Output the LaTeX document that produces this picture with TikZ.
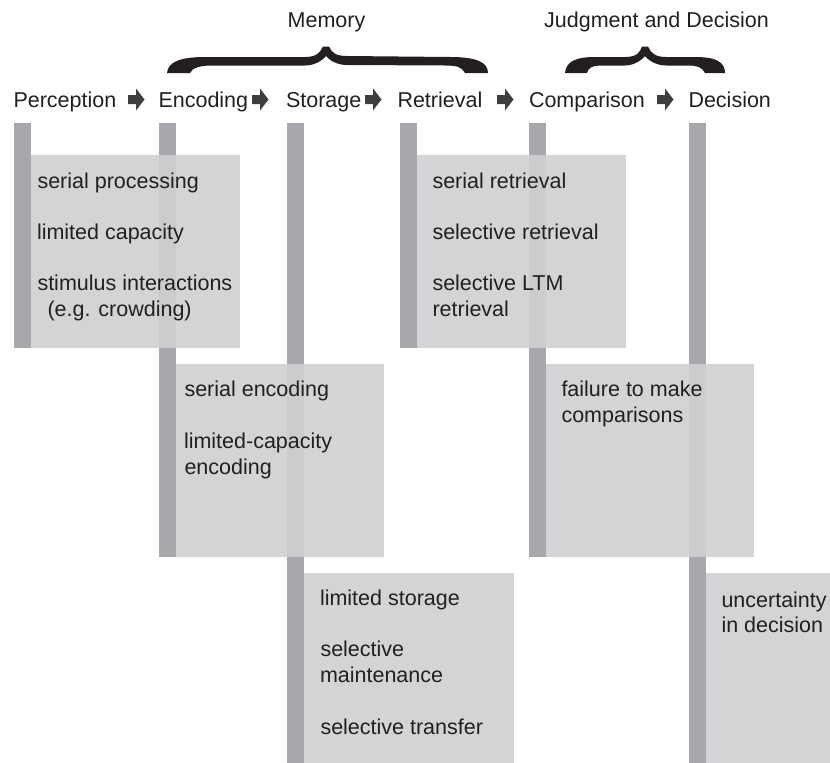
\documentclass[tikz,border=0pt]{standalone}
\usepackage{fontspec}
\setmainfont{Liberation Sans}
\definecolor{barc}{RGB}{167,168,171}
\definecolor{boxc}{RGB}{207,208,210}
\definecolor{txtc}{RGB}{35,31,32}
\definecolor{arrc}{RGB}{62,62,64}
\begin{document}
\begin{tikzpicture}[x=1pt,y=-1pt,
  bar/.style={fill=barc, draw=none},
  box/.style={fill=boxc, fill opacity=0.92, draw=none},
  txt/.style={anchor=base west, inner sep=0pt, outer sep=0pt, text=txtc, font=\fontsize{21.5}{25}\selectfont},
  ttl/.style={anchor=base, inner sep=0pt, outer sep=0pt, text=txtc, font=\fontsize{21.5}{25}\selectfont},
  arr/.style={fill=arrc, draw=none},
  brc/.style={fill=txtc, draw=none}]
\useasboundingbox (0,0) rectangle (830,763);

% vertical bars
\fill[bar] (14,123) rectangle (31,348);
\fill[bar] (159,123) rectangle (176,557);
\fill[bar] (287,123) rectangle (304,763);
\fill[bar] (400,123) rectangle (417,348);
\fill[bar] (529,123) rectangle (546,557);
\fill[bar] (689,123) rectangle (706,763);

% boxes
\fill[box] (31,155) rectangle (240,348);
\fill[box] (417,155) rectangle (626,348);
\fill[box] (176,364) rectangle (384,557);
\fill[box] (546,364) rectangle (754,557);
\fill[box] (304,573) rectangle (514,763);
\fill[box] (706,573) rectangle (830,763);

% header words
\node[txt] (perc) at (13.5,107.5) {Perception};
\node[txt] (enc)  at (158.5,107.5) {Encoding};
\node[txt] (sto)  at (286,107.5) {Storage};
\node[txt] (ret)  at (397.5,107.5) {Retrieval};
\node[txt] (comp) at (529,107.5) {Comparison};
\node[txt] (dec)  at (688.5,107.5) {Decision};

% block arrows
\foreach \x in {128,252,365,497,657}{
  \fill[arr] (\x,95) -- (\x+8,95) -- (\x+8,88.5) -- (\x+16.5,99.5) -- (\x+8,110.5) -- (\x+8,104) -- (\x,104) -- cycle;
}

% group titles
\node[ttl] (mem) at (326.5,27) {Memory};
\node[ttl] (jd)  at (656.5,27) {Judgment and Decision};

% braces
\fill[brc] (167,73) .. controls (168,62) and (180,57) .. (205,57) -- (305,57)
  .. controls (316,57) and (320,53) .. (323,46.5) -- (329,46.5)
  .. controls (332,53) and (336,56) .. (347,56) -- (450,57)
  .. controls (476,57) and (488,62) .. (488,73) -- (465,73)
  .. controls (462,67) and (457,65.5) .. (445,65.5) -- (347,65)
  .. controls (338,65) and (330,61) .. (326,56)
  .. controls (322,61) and (314,65.5) .. (305,65.5) -- (212,65.5)
  .. controls (200,65.5) and (192,68) .. (190,73) -- cycle;
\fill[brc] (565,73) .. controls (566,62) and (575,57) .. (595,57) -- (625,57)
  .. controls (636,57) and (640,53) .. (642,46.5) -- (648,46.5)
  .. controls (651,53) and (655,57) .. (666,57) -- (695,57)
  .. controls (716,57) and (725,62) .. (725,73) -- (705,73)
  .. controls (702,67) and (697,65.5) .. (688,65.5) -- (666,65.5)
  .. controls (657,65.5) and (649,61) .. (645,56)
  .. controls (641,61) and (633,65.5) .. (625,65.5) -- (602,65.5)
  .. controls (592,65.5) and (588,68) .. (587,73) -- cycle;

% box 1
\node[txt] (p1) at (37.5,188.5) {serial processing};
\node[txt] (p2) at (37,239) {limited capacity};
\node[txt] (p3) at (37.5,290) {stimulus interactions};
\node[txt] (p4) at (47.5,316) {(e.g. crowding)};
% box 3
\node[txt] (r1) at (432.5,188.5) {serial retrieval};
\node[txt] (r2) at (432.5,239) {selective retrieval};
\node[txt] (r3) at (432.5,290) {selective LTM};
\node[txt] (r4) at (432.5,316) {retrieval};
% box 2
\node[txt] (e1) at (184.5,396) {serial encoding};
\node[txt] (e2) at (184,448) {limited-capacity};
\node[txt] (e3) at (184.5,474) {encoding};
% box 5
\node[txt] (c1) at (561.5,396) {failure to make};
\node[txt] (c2) at (561.5,422) {comparisons};
% box 4
\node[txt] (s1) at (320,605) {limited storage};
\node[txt] (s2) at (320.5,656) {selective};
\node[txt] (s3) at (320,682) {maintenance};
\node[txt] (s4) at (320.5,734) {selective transfer};
% box 6
\node[txt] (d1) at (721.5,607) {uncertainty};
\node[txt] (d2) at (721.5,632) {in decision};
\end{tikzpicture}
\end{document}
